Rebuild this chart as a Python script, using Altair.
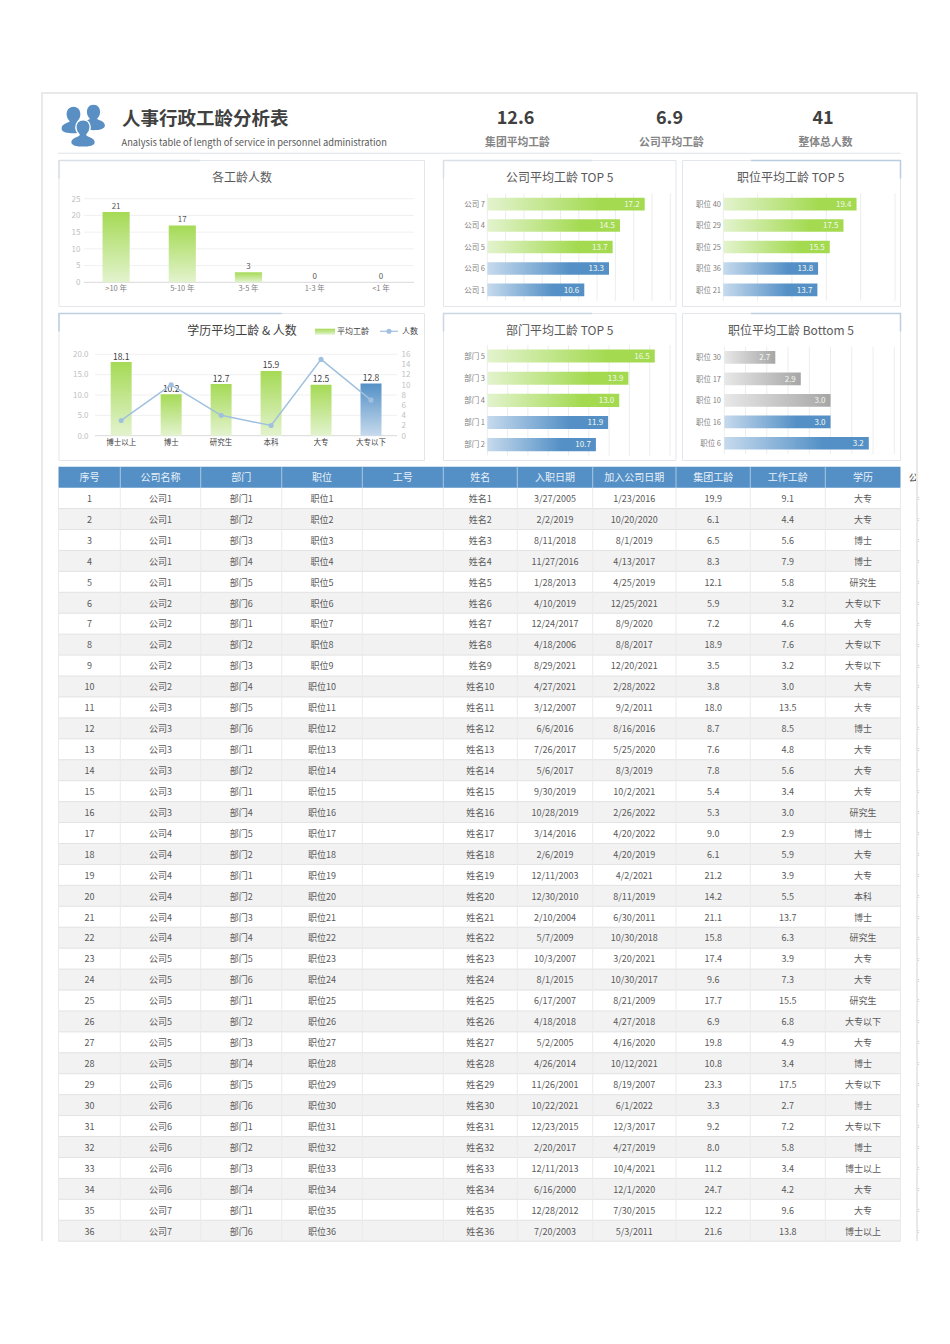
import altair as alt
import pandas as pd

FONT = "Noto Sans CJK SC"
TDY = 0.8

# ---------- values ----------
tenure_cats = [">10 年", "5-10 年", "3-5 年", "1-3 年", "<1 年"]
tenure_vals = [21, 17, 3, 0, 0]

comp_cats = ["公司 7", "公司 4", "公司 5", "公司 6", "公司 1"]
comp_vals = [17.2, 14.5, 13.7, 13.3, 10.6]
post_top_cats = ["职位 40", "职位 29", "职位 25", "职位 36", "职位 21"]
post_top_vals = [19.4, 17.5, 15.5, 13.8, 13.7]
dept_cats = ["部门 5", "部门 3", "部门 4", "部门 1", "部门 2"]
dept_vals = [16.5, 13.9, 13.0, 11.9, 10.7]
post_bot_cats = ["职位 30", "职位 17", "职位 10", "职位 16", "职位 6"]
post_bot_vals = [2.74, 2.86, 3.0, 3.0, 3.18]

edu_cats = ["博士以上", "博士", "研究生", "本科", "大专", "大专以下"]
edu_years = [18.1, 10.2, 12.7, 15.9, 12.5, 12.8]
edu_people = [3, 10, 4, 2, 15, 7]

headers = ["序号", "公司名称", "部门", "职位", "工号", "姓名", "入职日期", "加入公司日期", "集团工龄", "工作工龄", "学历"]
company_no = [1,1,1,1,1,2,2,2,2,2,3,3,3,3,3,3,4,4,4,4,4,4,5,5,5,5,5,5,6,6,6,6,6,6,7,7]
dept_no = [1,2,3,4,5,6,1,2,3,4,5,6,1,2,1,4,5,2,1,2,3,4,5,6,1,2,3,4,5,6,1,2,3,4,1,6]
hire_dates = ["3/27/2005","2/2/2019","8/11/2018","11/27/2016","1/28/2013","4/10/2019","12/24/2017","4/18/2006","8/29/2021",
              "4/27/2021","3/12/2007","6/6/2016","7/26/2017","5/6/2017","9/30/2019","10/28/2019","3/14/2016","2/6/2019",
              "12/11/2003","12/30/2010","2/10/2004","5/7/2009","10/3/2007","8/1/2015","6/17/2007","4/18/2018","5/2/2005",
              "4/26/2014","11/26/2001","10/22/2021","12/23/2015","2/20/2017","12/11/2013","6/16/2000","12/28/2012","7/20/2003"]
join_dates = ["1/23/2016","10/20/2020","8/1/2019","4/13/2017","4/25/2019","12/25/2021","8/9/2020","8/8/2017","12/20/2021",
              "2/28/2022","9/2/2011","8/16/2016","5/25/2020","8/3/2019","10/2/2021","2/26/2022","4/20/2022","4/20/2019",
              "4/2/2021","8/11/2019","6/30/2011","10/30/2018","3/20/2021","10/30/2017","8/21/2009","4/27/2018","4/16/2020",
              "10/12/2021","8/19/2007","6/1/2022","12/3/2017","4/27/2019","10/4/2021","12/1/2020","7/30/2015","5/3/2011"]
group_years = ["19.9","6.1","6.5","8.3","12.1","5.9","7.2","18.9","3.5","3.8","18.0","8.7","7.6","7.8","5.4","5.3","9.0","6.1",
               "21.2","14.2","21.1","15.8","17.4","9.6","17.7","6.9","19.8","10.8","23.3","3.3","9.2","8.0","11.2","24.7","12.2","21.6"]
work_years = ["9.1","4.4","5.6","7.9","5.8","3.2","4.6","7.6","3.2","3.0","13.5","8.5","4.8","5.6","3.4","3.0","2.9","5.9",
              "3.9","5.5","13.7","6.3","3.9","7.3","15.5","6.8","4.9","3.4","17.5","2.7","7.2","5.8","3.4","4.2","9.6","13.8"]
education = ["大专","大专","博士","博士","研究生","大专以下","大专","大专以下","大专以下","大专","大专","博士","大专","大专","大专","研究生","博士","大专",
             "大专","本科","博士","研究生","大专","大专","研究生","大专以下","大专","博士","大专以下","博士","大专以下","博士","博士以上","大专","大专","博士以上"]

# ---------- helpers (page pixels -> canvas pixels) ----------
def px(v):
    return alt.value(v - 8)

def R(*vals):
    return [v - 8 for v in vals]

def lin(domain, rng):
    return alt.Scale(type="linear", domain=domain, range=R(*rng), nice=False, zero=False)

def band(cats, a, b, pad):
    return alt.Scale(type="band", domain=cats, range=R(a, b), paddingInner=pad, paddingOuter=pad / 2)

def grad(stops, horizontal=True):
    s = [alt.GradientStop(color=c, offset=o) for o, c in stops]
    if horizontal:
        return alt.LinearGradient(gradient="linear", stops=s, x1=0, x2=1, y1=0, y2=0)
    return alt.LinearGradient(gradient="linear", stops=s, x1=0, x2=0, y1=0, y2=1)

H_GREEN = grad([(0, "#E3F3CE"), (0.72, "#A3DA50"), (1, "#A3DA50")])
H_BLUE = grad([(0, "#C6DAED"), (0.68, "#5490C6"), (1, "#5490C6")])
H_GRAY = grad([(0, "#E8E8E8"), (1, "#A6A6A6")])
V_GREEN = grad([(0, "#A5DA55"), (1, "#E3F3CE")], False)
V_BLUE = grad([(0, "#5490C6"), (1, "#C6DAED")], False)

def label(text, x, y, size, color="#595959", align="center", weight="normal"):
    return alt.Chart(alt.Data(values=[{"t": text}])).mark_text(
        font=FONT, fontSize=size, color=color, align=align, baseline="middle", fontWeight=weight, dy=TDY
    ).encode(x=px(x), y=px(y), text="t:N")

def box(x1, x2, y1, y2, fill, stroke=None):
    kw = dict(fill=fill)
    if stroke:
        kw.update(stroke=stroke, strokeWidth=1)
    return alt.Chart(alt.Data(values=[{"a": 1}])).mark_rect(**kw).encode(x=px(x1), x2=px(x2), y=px(y1), y2=px(y2))

def card(x1, x2, y1, y2, accent_left, accent_x, accent):
    parts = [box(x1, x2, y1, y2, "#FFFFFF", "#E3E6EA")]
    if accent_left:
        parts.append(box(x1 - 0.5, accent_x, y1 - 0.75, y1 + 0.75, accent))
        parts.append(box(x1 - 0.75, x1 + 0.75, y1, y1 + 18, accent))
    else:
        parts.append(box(accent_x, x2 + 0.5, y1 - 0.75, y1 + 0.75, accent))
        parts.append(box(x2 - 0.75, x2 + 0.75, y1, y1 + 18, accent))
    return parts

def hbars(cats, vals, n_first, first_fill, dom, x0, x1, y0, y1, ticks, lab_x, pad=0.41):
    df = pd.DataFrame({"c": cats, "v": vals, "i": range(len(cats))})
    xs = lin(dom, [x0, x1])
    ys = band(cats, y0, y1, pad)
    X = alt.X("v:Q", scale=xs, axis=None)
    X2 = alt.X2(datum=dom[0])
    Y = alt.Y("c:N", scale=ys, axis=None, sort=None)
    grid = alt.Chart(pd.DataFrame({"g": ticks})).mark_rule(color="#EDEDED", strokeWidth=1).encode(
        x=alt.X("g:Q", scale=xs, axis=None), y=px(y0), y2=px(y1))
    first = alt.Chart(df[df.i < n_first]).mark_bar(fill=first_fill).encode(x=X, x2=X2, y=Y)
    second = alt.Chart(df[df.i >= n_first]).mark_bar(fill=H_BLUE).encode(x=X, x2=X2, y=Y)
    vals_txt = alt.Chart(df).mark_text(font=FONT, fontSize=8, color="#F4F8EE", align="right", baseline="middle", dx=-5, dy=TDY).encode(
        x=X, y=Y, text=alt.Text("v:Q", format=".1f"))
    cat_txt = alt.Chart(df).mark_text(font=FONT, fontSize=7.5, color="#7F7F7F", align="right", baseline="middle", dy=TDY).encode(
        x=px(lab_x), y=Y, text="c:N")
    return [grid, first, second, vals_txt, cat_txt]

layers = []

# ---------- outer frame ----------
layers += [box(41, 917.7, 92, 94, "#E9E9E9"), box(41, 43, 92, 1241, "#E9E9E9"), box(916, 918, 94, 1241, "#E9E9E9")]

# ---------- header ----------
PERSON = ("M0,-1 C0.36,-1 0.52,-0.72 0.52,-0.42 C0.52,-0.18 0.36,0 0.28,0.1 C0.32,0.22 0.88,0.24 0.9,0.62 "
          "C0.92,0.95 0.4,1 0,1 C-0.4,1 -0.92,0.95 -0.9,0.62 C-0.88,0.24 -0.32,0.22 -0.28,0.1 "
          "C-0.36,0 -0.52,-0.18 -0.52,-0.42 C-0.52,-0.72 -0.36,-1 0,-1 Z")
def person(x, y, size, stroke=None):
    kw = dict(shape=PERSON, filled=True, size=size, fill="#5A8FC4", opacity=1)
    if stroke:
        kw.update(stroke="#FFFFFF", strokeWidth=1.5)
    else:
        kw.update(strokeWidth=0)
    return alt.Chart(alt.Data(values=[{"a": 1}])).mark_point(**kw).encode(x=px(x), y=px(y))

layers += [person(73.5, 120, 700), person(93.5, 117.5, 640), person(83, 133.5, 760, True)]
layers.append(label("人事行政工龄分析表", 122, 118, 18.5, "#404040", "left", "bold"))
layers.append(label("Analysis table of length of service in personnel administration", 121.5, 142, 9.3, "#595959", "left"))
for val, x, name, x2 in [("12.6", 515.5, "集团平均工龄", 517.5), ("6.9", 669.5, "公司平均工龄", 671.5), ("41", 823, "整体总人数", 825.5)]:
    layers.append(label(val, x, 118, 18, "#404040", "center", "bold"))
    layers.append(label(name, x2, 142, 10.8, "#858585", "center", "bold"))
layers.append(box(58, 900.5, 152.8, 153.8, "#DFE3E6"))

# ---------- cards ----------
layers += card(59, 424.5, 160.5, 306.5, True, 200.5, "#D8DFE7")
layers += card(443.5, 676, 160.5, 306.5, True, 592, "#D8DFE7")
layers += card(682.5, 900.5, 160.5, 306.5, False, 751, "#B9CCE0")
layers += card(59, 424.5, 313.5, 460.5, True, 281.5, "#BCCEDF")
layers += card(443.5, 676, 313.5, 460.5, True, 592, "#CBD7E3")
layers += card(682.5, 900.5, 313.5, 460.5, False, 751, "#BCCEDF")

# ---------- chart 1 ----------
layers.append(label("各工龄人数", 242, 177, 12, "#595959"))
t_df = pd.DataFrame({"c": tenure_cats, "v": tenure_vals})
t_y = lin([0, 25], [282.3, 198.7])
t_x = band(tenure_cats, 83, 414, 0.59)
g_df = pd.DataFrame({"g": [5, 10, 15, 20, 25]})
layers.append(alt.Chart(g_df).mark_rule(color="#F0F0F0").encode(y=alt.Y("g:Q", scale=t_y, axis=None), x=px(84), x2=px(414)))
layers.append(alt.Chart(pd.DataFrame({"g": [0]})).mark_rule(color="#D9D9D9").encode(y=alt.Y("g:Q", scale=t_y, axis=None), x=px(84), x2=px(414)))
layers.append(alt.Chart(pd.DataFrame({"g": [0, 5, 10, 15, 20, 25]})).mark_text(font=FONT, fontSize=8, color="#BFBFBF", align="right", baseline="middle", dy=TDY).encode(
    x=px(80.5), y=alt.Y("g:Q", scale=t_y, axis=None), text="g:Q"))
layers.append(alt.Chart(t_df).mark_bar(fill=V_GREEN).encode(
    x=alt.X("c:N", scale=t_x, axis=None, sort=None), y=alt.Y("v:Q", scale=t_y, axis=None)))
layers.append(alt.Chart(t_df).mark_text(font=FONT, fontSize=8, color="#595959", baseline="middle", dy=-5.5).encode(
    x=alt.X("c:N", scale=t_x, axis=None, sort=None), y=alt.Y("v:Q", scale=t_y, axis=None), text="v:Q"))
layers.append(alt.Chart(t_df).mark_text(font=FONT, fontSize=7.5, color="#7F7F7F", baseline="middle", dy=TDY).encode(
    x=alt.X("c:N", scale=t_x, axis=None, sort=None), y=px(288.5), text="c:N"))

# ---------- horizontal charts ----------
layers.append(label("公司平均工龄 TOP 5", 559.7, 177, 12, "#595959"))
layers += hbars(comp_cats, comp_vals, 3, H_GREEN, [0, 20], 487.3, 670.3, 193.3, 300.7, list(range(0, 21, 2)), 485)
layers.append(label("职位平均工龄 TOP 5", 790.7, 177, 12, "#595959"))
layers += hbars(post_top_cats, post_top_vals, 3, H_GREEN, [0, 25], 723.3, 895, 193.3, 300.7, list(range(0, 26, 5)), 721)
layers.append(label("部门平均工龄 TOP 5", 559.7, 330, 12, "#595959"))
layers += hbars(dept_cats, dept_vals, 3, H_GREEN, [0, 18], 487.3, 670, 345, 455.7, list(range(0, 19, 2)), 485)
layers.append(label("职位平均工龄 Bottom 5", 791, 330, 12, "#595959"))
layers += hbars(post_bot_cats, post_bot_vals, 3, H_GRAY, [2.5, 3.3], 724.3, 894.3, 346.7, 454,
                [2.5, 2.6, 2.7, 2.8, 2.9, 3.0, 3.1, 3.2, 3.3], 721)

# ---------- education combo ----------
layers.append(label("学历平均工龄 & 人数", 242, 330, 12, "#404040"))
e_df = pd.DataFrame({"c": edu_cats, "v": edu_years, "p": edu_people, "i": range(6)})
e_y = lin([0, 20], [435.7, 354.3])
e_y2 = lin([0, 16], [435.7, 354.3])
e_x = band(edu_cats, 96.2, 396, 0.58)
EX = alt.X("c:N", scale=e_x, axis=None, sort=None)
EY = alt.Y("v:Q", scale=e_y, axis=None)
layers.append(alt.Chart(pd.DataFrame({"g": [5, 10, 15, 20]})).mark_rule(color="#F0F0F0").encode(y=alt.Y("g:Q", scale=e_y, axis=None), x=px(95), x2=px(397)))
layers.append(alt.Chart(pd.DataFrame({"g": [0]})).mark_rule(color="#D9D9D9").encode(y=alt.Y("g:Q", scale=e_y, axis=None), x=px(95), x2=px(397)))
layers.append(alt.Chart(pd.DataFrame({"g": [0, 5, 10, 15, 20]})).mark_text(font=FONT, fontSize=8, color="#BFBFBF", align="right", baseline="middle", dy=TDY).encode(
    x=px(88.5), y=alt.Y("g:Q", scale=e_y, axis=None), text=alt.Text("g:Q", format=".1f")))
layers.append(alt.Chart(pd.DataFrame({"g": list(range(0, 17, 2))})).mark_text(font=FONT, fontSize=8, color="#BFBFBF", align="left", baseline="middle", dy=TDY).encode(
    x=px(401.5), y=alt.Y("g:Q", scale=e_y2, axis=None), text="g:Q"))
layers.append(alt.Chart(e_df[e_df.i < 5]).mark_bar(fill=V_GREEN).encode(x=EX, y=EY))
layers.append(alt.Chart(e_df[e_df.i >= 5]).mark_bar(fill=V_BLUE).encode(x=EX, y=EY))
layers.append(alt.Chart(e_df).mark_text(font=FONT, fontSize=8.5, color="#404040", baseline="middle", dy=-5.5).encode(
    x=EX, y=EY, text=alt.Text("v:Q", format=".1f")))
layers.append(alt.Chart(e_df).mark_text(font=FONT, fontSize=7.5, color="#404040", baseline="middle", dy=TDY).encode(x=EX, y=px(442), text="c:N"))
EP = alt.Y("p:Q", scale=e_y2, axis=None)
layers.append(alt.Chart(e_df).mark_line(color="#A0C0DF", strokeWidth=1.5).encode(x=EX, y=EP, order="i:Q"))
layers.append(alt.Chart(e_df).mark_circle(color="#A0C0DF", size=26, opacity=1).encode(x=EX, y=EP))
# legend
layers.append(box(315, 335, 328.7, 334.7, V_GREEN))
layers.append(label("平均工龄", 337, 331.5, 8, "#404040", "left"))
layers.append(box(380, 398, 330.7, 331.9, "#A0C0DF"))
layers.append(alt.Chart(alt.Data(values=[{"a": 1}])).mark_circle(color="#A0C0DF", size=26, opacity=1).encode(x=px(389), y=px(331.3)))
layers.append(label("人数", 402, 331.5, 8, "#404040", "left"))

# ---------- table ----------
bounds = [58.5, 120.3, 200.7, 281.7, 362.3, 443.3, 517.3, 592.7, 676, 750.3, 825.3, 900.5]
n_rows = len(company_no)
columns = [
    [str(i + 1) for i in range(n_rows)],
    [f"公司{n}" for n in company_no],
    [f"部门{n}" for n in dept_no],
    [f"职位{i + 1}" for i in range(n_rows)],
    [""] * n_rows,
    [f"姓名{i + 1}" for i in range(n_rows)],
    hire_dates, join_dates, group_years, work_years, education,
]
tx = lin(list(range(12)), bounds)
ty = alt.Scale(type="linear", domain=[0, n_rows + 1], range=R(466.7, 1241.2), nice=False, zero=False)
rows_df = pd.DataFrame({"r": range(n_rows + 1), "r2": range(1, n_rows + 2), "a": [0] * (n_rows + 1), "b": [11] * (n_rows + 1)})
TX = alt.X("a:Q", scale=tx, axis=None)
TX2 = alt.X2("b:Q")
TY = alt.Y("r:Q", scale=ty, axis=None)
TY2 = alt.Y2("r2:Q")
layers.append(alt.Chart(rows_df[rows_df.r == 0]).mark_rect(fill="#5490C6").encode(x=TX, x2=TX2, y=TY, y2=TY2))
layers.append(alt.Chart(rows_df[(rows_df.r > 0) & (rows_df.r % 2 == 0)]).mark_rect(fill="#F2F2F2").encode(x=TX, x2=TX2, y=TY, y2=TY2))
layers.append(alt.Chart(rows_df[rows_df.r > 0]).mark_rule(color="#E2E2E2", strokeWidth=1).encode(x=TX, x2=TX2, y=alt.Y("r2:Q", scale=ty, axis=None)))
col_df = pd.DataFrame({"k": range(12), "top": [0] * 12, "hdr": [1] * 12, "end": [n_rows + 1] * 12})
layers.append(alt.Chart(col_df).mark_rule(color="#E8EAEC", strokeWidth=1).encode(
    x=alt.X("k:Q", scale=tx, axis=None), y=alt.Y("hdr:Q", scale=ty, axis=None), y2=alt.Y2("end:Q")))
layers.append(alt.Chart(col_df[(col_df.k > 0) & (col_df.k < 11)]).mark_rule(color="#A9C7E4", strokeWidth=1).encode(
    x=alt.X("k:Q", scale=tx, axis=None), y=alt.Y("top:Q", scale=ty, axis=None), y2=alt.Y2("hdr:Q")))
hd = pd.DataFrame({"t": headers, "cx": [i + 0.5 for i in range(11)], "ry": [0.5] * 11})
layers.append(alt.Chart(hd).mark_text(font=FONT, fontSize=10, color="#E9F0F8", baseline="middle", dy=TDY).encode(
    x=alt.X("cx:Q", scale=tx, axis=None), y=alt.Y("ry:Q", scale=ty, axis=None), text="t:N"))
cells = pd.DataFrame([
    {"t": columns[c][r], "cx": c + 0.5, "ry": r + 1.5}
    for c in range(11) for r in range(n_rows) if columns[c][r]
])
layers.append(alt.Chart(cells).mark_text(font=FONT, fontSize=9, color="#595959", baseline="middle", dy=TDY).encode(
    x=alt.X("cx:Q", scale=tx, axis=None), y=alt.Y("ry:Q", scale=ty, axis=None), text="t:N"))

# clipped remnants of the next column beyond the frame
layers.append(label("公", 913.5, 477, 9.5, "#404040"))
layers.append(box(916, 918, 470, 486, "#E9E9E9"))
stub = pd.DataFrame({"t": [":"] * n_rows, "ry": [r + 1.5 for r in range(n_rows)]})
layers.append(alt.Chart(stub).mark_text(font=FONT, fontSize=6, color="#9A9A9A", baseline="middle").encode(
    x=px(918.3), y=alt.Y("ry:Q", scale=ty, axis=None), text="t:N"))

chart = alt.layer(*layers).resolve_scale(x="independent", y="independent").properties(
    width=934, height=1328, padding=0, autosize=alt.AutoSizeParams(type="none"),
    background="#FFFFFF",
).configure_view(stroke=None)

chart.save("out.html", embed_options={"renderer": "svg", "actions": False})
